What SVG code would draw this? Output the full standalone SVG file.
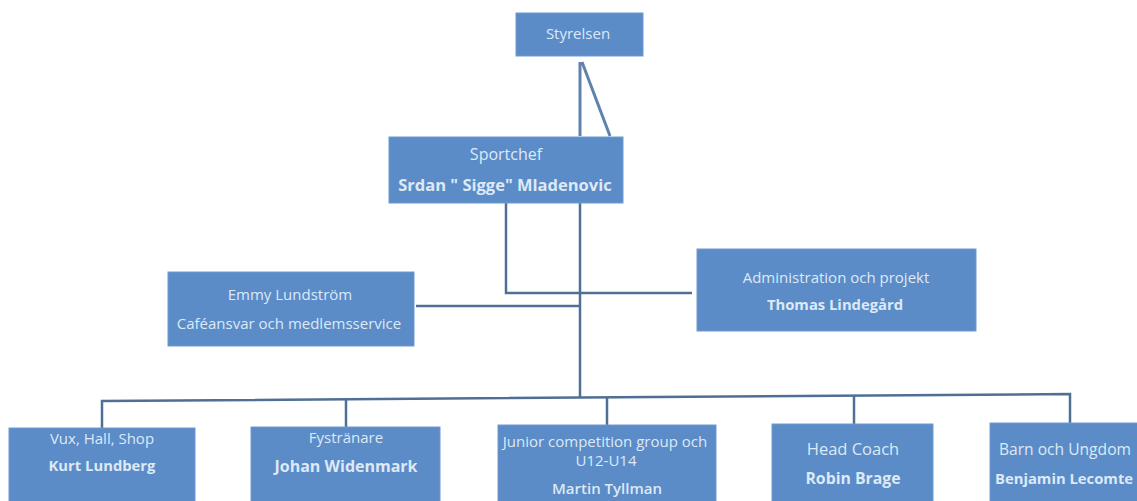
<svg xmlns="http://www.w3.org/2000/svg" width="1137" height="501" viewBox="0 0 1137 501">
<style>
.box{fill:#5b8cc8;stroke:#6f9ad0;stroke-width:1}
.t{font-family:"Open Sans","Liberation Sans",sans-serif;fill:#dde9f6;text-anchor:middle;font-size:15px}
.b{font-weight:bold;font-size:14.8px}
.ln{fill:none;stroke:#4f6f95;stroke-width:2.5}
</style>
<rect width="1137" height="501" fill="#ffffff"/>
<g id="connectors">
<path class="ln" style="stroke:#5f83ad;stroke-width:3" d="M580,62 V136 M582,62 L610,136"/>
<path class="ln" d="M506,203 V293 H692"/>
<path class="ln" d="M580,203 V398"/>
<path class="ln" d="M416,306 H580"/>
<path class="ln" d="M102,428 V401 L1070,394 V423"/>
<path class="ln" d="M346,427 V400"/>
<path class="ln" d="M607,425 V398"/>
<path class="ln" d="M854,424 V396"/>
</g>
<g id="styrelsen">
<rect class="box" x="516" y="13" width="127" height="43"/>
<text class="t" x="578" y="39">Styrelsen</text>
</g>
<g id="sportchef">
<rect class="box" x="389" y="137" width="234" height="66"/>
<text class="t" x="506" y="160" style="font-size:16px">Sportchef</text>
<text class="t b" x="505" y="191" style="font-size:16.5px">Srdan " Sigge" Mladenovic</text>
</g>
<g id="emmy">
<rect class="box" x="168" y="272" width="246" height="74"/>
<text class="t" x="290" y="300">Emmy Lundström</text>
<text class="t" x="289" y="329">Caféansvar och medlemsservice</text>
</g>
<g id="admin">
<rect class="box" x="697" y="249" width="279" height="82"/>
<text class="t" x="836" y="283">Administration och projekt</text>
<text class="t b" x="835" y="310">Thomas Lindegård</text>
</g>
<g id="vux">
<rect class="box" x="9" y="428" width="186" height="80"/>
<text class="t" x="102" y="444">Vux, Hall, Shop</text>
<text class="t b" x="102" y="471">Kurt Lundberg</text>
</g>
<g id="fystranare">
<rect class="box" x="251" y="427" width="189" height="80"/>
<text class="t" x="346" y="443">Fystränare</text>
<text class="t b" x="346" y="472" style="font-size:16px">Johan Widenmark</text>
</g>
<g id="junior">
<rect class="box" x="498" y="425" width="218" height="82"/>
<text class="t" x="605" y="447">Junior competition group och</text>
<text class="t" x="606" y="466">U12-U14</text>
<text class="t" x="607" y="494" style="font-weight:600">Martin Tyllman</text>
</g>
<g id="headcoach">
<rect class="box" x="772" y="424" width="161" height="84"/>
<text class="t" x="853" y="455" style="font-size:16.5px">Head Coach</text>
<text class="t b" x="853" y="484" style="font-size:15.8px">Robin Brage</text>
</g>
<g id="barn">
<rect class="box" x="990" y="423" width="160" height="85"/>
<text class="t" x="999" y="455" style="text-anchor:start;font-size:15.6px">Barn och Ungdom</text>
<text class="t b" x="995" y="484" style="text-anchor:start;font-size:14.8px">Benjamin Lecomte</text>
</g>
</svg>
